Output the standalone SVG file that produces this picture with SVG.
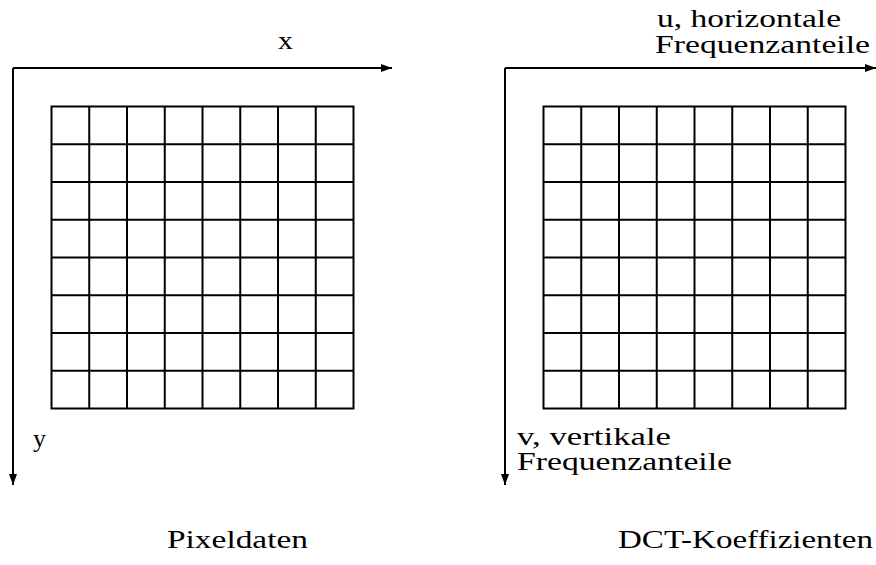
<svg xmlns="http://www.w3.org/2000/svg" width="876" height="565" viewBox="0 0 876 565">
<style>
.grid{fill:none;stroke:#000;stroke-width:2}
.axis{fill:none;stroke:#000;stroke-width:2;marker-end:url(#arr)}
.lbl{font-family:'Liberation Serif','Times New Roman',serif;font-size:25px;fill:#000}
</style>
<defs>
<marker id="arr" markerUnits="userSpaceOnUse" markerWidth="12" markerHeight="10" refX="11" refY="4" orient="auto">
<path d="M0,0 L11,4 L0,8 Z" fill="#000"/>
</marker>
</defs>
<g id="connectors">
<line class="axis" x1="13" y1="68" x2="392" y2="68"/>
<line class="axis" x1="13" y1="68" x2="13" y2="485"/>
<line class="axis" x1="505" y1="68" x2="876" y2="68"/>
<line class="axis" x1="505" y1="68" x2="505" y2="485"/>
</g>
<g id="pixel-grid">
<path class="grid" d="M51.5,106.5H353.5V408.5H51.5Z
M89.25,106.5V408.5M127,106.5V408.5M164.75,106.5V408.5M202.5,106.5V408.5M240.25,106.5V408.5M278,106.5V408.5M315.75,106.5V408.5
M51.5,144.25H353.5M51.5,182H353.5M51.5,219.75H353.5M51.5,257.5H353.5M51.5,295.25H353.5M51.5,333H353.5M51.5,370.75H353.5"/>
</g>
<g id="dct-grid">
<path class="grid" d="M543.5,106.5H845.5V408.5H543.5Z
M581.25,106.5V408.5M619,106.5V408.5M656.75,106.5V408.5M694.5,106.5V408.5M732.25,106.5V408.5M770,106.5V408.5M807.75,106.5V408.5
M543.5,144.25H845.5M543.5,182H845.5M543.5,219.75H845.5M543.5,257.5H845.5M543.5,295.25H845.5M543.5,333H845.5M543.5,370.75H845.5"/>
</g>
<g id="label-x"><text class="lbl" x="278" y="49" textLength="15" lengthAdjust="spacingAndGlyphs">x</text></g>
<g id="label-y"><text class="lbl" x="33" y="447" textLength="13" lengthAdjust="spacingAndGlyphs">y</text></g>
<g id="label-u">
<text class="lbl" x="657" y="27" textLength="184" lengthAdjust="spacingAndGlyphs">u, horizontale</text>
<text class="lbl" x="655" y="53" textLength="215" lengthAdjust="spacingAndGlyphs">Frequenzanteile</text>
</g>
<g id="label-v">
<text class="lbl" x="517" y="445" textLength="154" lengthAdjust="spacingAndGlyphs">v, vertikale</text>
<text class="lbl" x="517" y="470" textLength="215" lengthAdjust="spacingAndGlyphs">Frequenzanteile</text>
</g>
<g id="label-pixeldaten"><text class="lbl" x="167" y="548" textLength="141" lengthAdjust="spacingAndGlyphs">Pixeldaten</text></g>
<g id="label-dct"><text class="lbl" x="618" y="548" textLength="255" lengthAdjust="spacingAndGlyphs">DCT-Koeffizienten</text></g>
</svg>
